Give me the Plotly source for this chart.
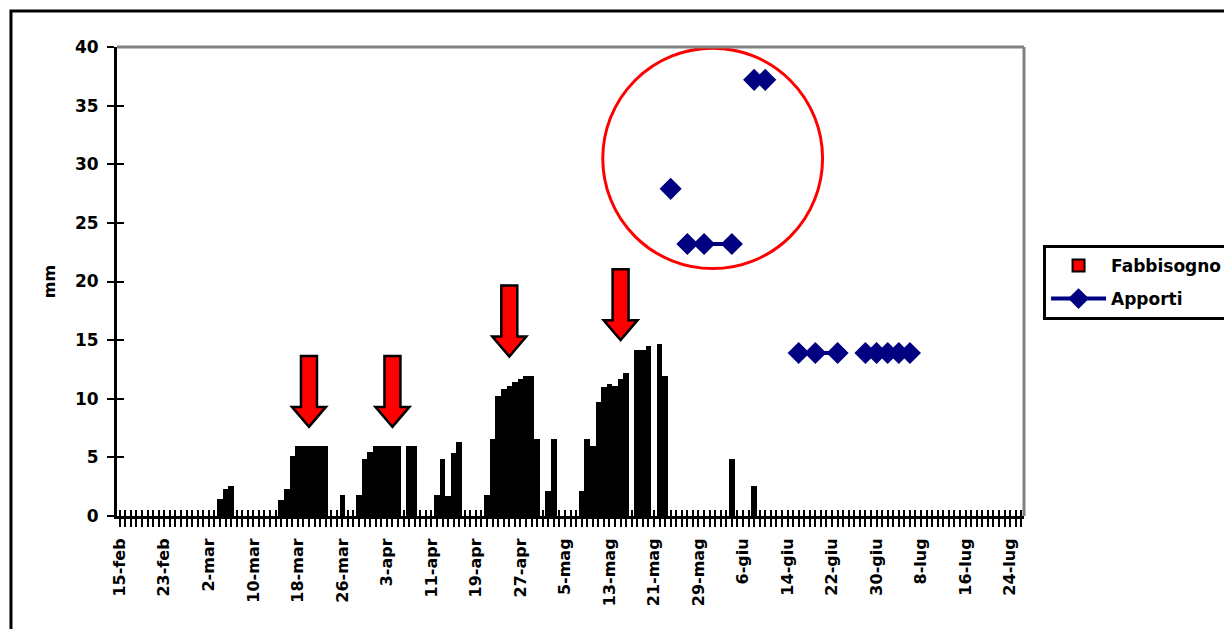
import datetime as dt
import plotly.graph_objects as go

# ---------------- data ----------------
start_date = "2008-02-15"
n_days = 163  # 15-feb ... 26-lug

tick_labels = ["15-feb", "23-feb", "2-mar", "10-mar", "18-mar", "26-mar", "3-apr",
               "11-apr", "19-apr", "27-apr", "5-mag", "13-mag", "21-mag", "29-mag",
               "6-giu", "14-giu", "22-giu", "30-giu", "8-lug", "16-lug", "24-lug"]

# Fabbisogno (mm) - daily bars (days not listed are 0)
fabbisogno_dates = ["2008-03-04", "2008-03-05", "2008-03-06", "2008-03-15", "2008-03-16",
                    "2008-03-17", "2008-03-18", "2008-03-19", "2008-03-20", "2008-03-21",
                    "2008-03-22", "2008-03-23", "2008-03-26", "2008-03-29", "2008-03-30",
                    "2008-03-31", "2008-04-01", "2008-04-02", "2008-04-03", "2008-04-04",
                    "2008-04-05", "2008-04-07", "2008-04-08", "2008-04-12", "2008-04-13",
                    "2008-04-14", "2008-04-15", "2008-04-16", "2008-04-21", "2008-04-22",
                    "2008-04-23", "2008-04-24", "2008-04-25", "2008-04-26", "2008-04-27",
                    "2008-04-28", "2008-04-29", "2008-04-30", "2008-05-02", "2008-05-03",
                    "2008-05-08", "2008-05-09", "2008-05-10", "2008-05-11", "2008-05-12",
                    "2008-05-13", "2008-05-14", "2008-05-15", "2008-05-16", "2008-05-18",
                    "2008-05-19", "2008-05-20", "2008-05-22", "2008-05-23", "2008-06-04",
                    "2008-06-08"]
fabbisogno_mm = [1.45, 2.3, 2.6, 1.4, 2.3,
                 5.1, 6.0, 6.0, 6.0, 6.0,
                 6.0, 6.0, 1.8, 1.8, 4.85,
                 5.5, 6.0, 6.0, 6.0, 6.0,
                 6.0, 6.0, 6.0, 1.8, 4.85,
                 1.7, 5.4, 6.3, 1.8, 6.55,
                 10.2, 10.8, 11.1, 11.4, 11.65,
                 11.9, 11.9, 6.55, 2.1, 6.55,
                 2.1, 6.55, 6.0, 9.7, 11.0,
                 11.3, 11.1, 11.65, 12.2, 14.15,
                 14.15, 14.5, 14.7, 11.9, 4.85,
                 2.6]

# Apporti (mm) - None separates non-connected groups
apporti_dates = ["2008-05-24", None,
                 "2008-05-27", "2008-05-30", "2008-06-04", None,
                 "2008-06-08", "2008-06-10", None,
                 "2008-06-16", "2008-06-19", "2008-06-23", None,
                 "2008-06-28", "2008-06-30", "2008-07-02", "2008-07-04", "2008-07-06"]
apporti_mm = [27.9, None,
              23.2, 23.2, 23.2, None,
              37.2, 37.2, None,
              13.9, 13.9, 13.9, None,
              13.9, 13.9, 13.9, 13.9, 13.9]

# Annotation arrows (tip date, tip value in mm) and highlight circle
arrow_dates = ["2008-03-20", "2008-04-04", "2008-04-25", "2008-05-15"]
arrow_tip_mm = [7.6, 7.6, 13.6, 15.0]
circle_dates = ["2008-05-12", "2008-06-20"]
circle_mm = [21.1, 39.9]

# ---------------- helpers ----------------
d0 = dt.date.fromisoformat(start_date)


def day_index(s):
    if s is None:
        return None
    return (dt.date.fromisoformat(s) - d0).days


fab_x = [day_index(s) for s in fabbisogno_dates]
app_x = [day_index(s) for s in apporti_dates]
arrow_x = [day_index(s) for s in arrow_dates]
circ_x = [day_index(s) for s in circle_dates]

all_days = list(range(n_days))
tick_text = [tick_labels[i // 8] if i % 8 == 0 and i // 8 < len(tick_labels) else "" for i in all_days]

FONT = "DejaVu Sans"
xr = [-0.5, n_days - 0.5]
yr = [0, 40]

fig = go.Figure()

fig.add_trace(go.Bar(x=fab_x, y=fabbisogno_mm, width=1, marker=dict(color="black", line=dict(width=0)),
                     name="Fabbisogno", showlegend=False, legendgroup="a", hoverinfo="skip"))
# legend entry for Fabbisogno (red fill, black outline)
fig.add_trace(go.Bar(x=[None], y=[None], name="Fabbisogno", legendgroup="a",
                     marker=dict(color="#FF0000", line=dict(color="black", width=2))))
fig.add_trace(go.Scatter(x=app_x, y=apporti_mm, mode="lines+markers", name="Apporti", legendgroup="b",
                         connectgaps=False,
                         line=dict(color="#000080", width=4),
                         marker=dict(symbol="diamond", size=17, color="#000080"),
                         hoverinfo="skip"))
# invisible trace for the overlay axes (inner half of the cross ticks)
fig.add_trace(go.Scatter(x=[None], y=[None], xaxis="x2", yaxis="y2", showlegend=False, hoverinfo="skip"))

shapes = []
# arrows
arrow_path = "M-8,71 L8,71 L8,20 L17,20 L0,0 L-17,20 L-8,20 Z"
for ax_, ay_ in zip(arrow_x, arrow_tip_mm):
    shapes.append(dict(type="path", xref="x", yref="y", xsizemode="pixel", ysizemode="pixel",
                       xanchor=ax_, yanchor=ay_, path=arrow_path,
                       fillcolor="#FF0000", line=dict(color="black", width=2.5)))
# circle
shapes.append(dict(type="circle", xref="x", yref="y", x0=circ_x[0] - 0.2, x1=circ_x[1] + 0.3,
                   y0=circle_mm[0], y1=circle_mm[1], line=dict(color="#FF0000", width=3)))
# grey plot frame (top & right)
shapes.append(dict(type="line", xref="paper", yref="paper", x0=0, x1=1.0, y0=1, y1=1,
                   line=dict(color="#808080", width=3)))
shapes.append(dict(type="line", xref="paper", yref="paper", x0=1, x1=1, y0=0, y1=1,
                   line=dict(color="#808080", width=3)))
# outer black chart frame
shapes.append(dict(type="rect", xref="paper", yref="paper", x0=-0.1169, x1=1.35, y0=-0.35, y1=1.0768,
                   line=dict(color="black", width=3), fillcolor="rgba(0,0,0,0)", layer="below"))

# the page body adds an 8px offset, so the figure is sized/margined to compensate
fig.update_layout(
    width=1224, height=621,
    margin=dict(l=109, r=208, t=39, b=113, autoexpand=False),
    paper_bgcolor="white", plot_bgcolor="white",
    font=dict(family=FONT, size=17, color="black", weight="bold"),
    bargap=0, barmode="overlay",
    hovermode=False,
    showlegend=True,
    legend=dict(x=1.021, y=0.578, xanchor="left", yanchor="top",
                bordercolor="black", borderwidth=3, bgcolor="white",
                font=dict(family=FONT, size=17, color="black", weight="bold"),
                itemwidth=55, traceorder="grouped", tracegroupgap=8),
    xaxis=dict(range=xr, tickmode="array", tickvals=all_days, ticktext=tick_text,
               tickangle=-90, ticks="outside", ticklen=8, tickwidth=2, tickcolor="black",
               showline=True, linecolor="black", linewidth=3, showgrid=False, zeroline=False,
               ticklabelstandoff=5, automargin=False,
               tickfont=dict(family=FONT, size=16, color="black", weight="bold")),
    yaxis=dict(range=yr, tickmode="linear", tick0=0, dtick=5, ticks="outside", ticklen=7,
               tickwidth=2, tickcolor="black", showline=True, linecolor="black", linewidth=3,
               showgrid=False, zeroline=False, ticklabelstandoff=5, automargin=False,
               tickfont=dict(family=FONT, size=17, color="black", weight="bold"),
               title=dict(text="mm", standoff=16, font=dict(family=FONT, size=16, color="black", weight="bold"))),
    xaxis2=dict(range=xr, overlaying="x", anchor="y2", tickmode="array", tickvals=all_days,
                ticks="inside", ticklen=6, tickwidth=2, tickcolor="black",
                showticklabels=False, showline=False, showgrid=False, zeroline=False),
    yaxis2=dict(range=yr, overlaying="y", anchor="x2", side="left", tickmode="linear", tick0=0, dtick=5,
                ticks="inside", ticklen=7, tickwidth=2, tickcolor="black",
                showticklabels=False, showline=False, showgrid=False, zeroline=False),
    shapes=shapes,
)

fig.write_html("out.html")
